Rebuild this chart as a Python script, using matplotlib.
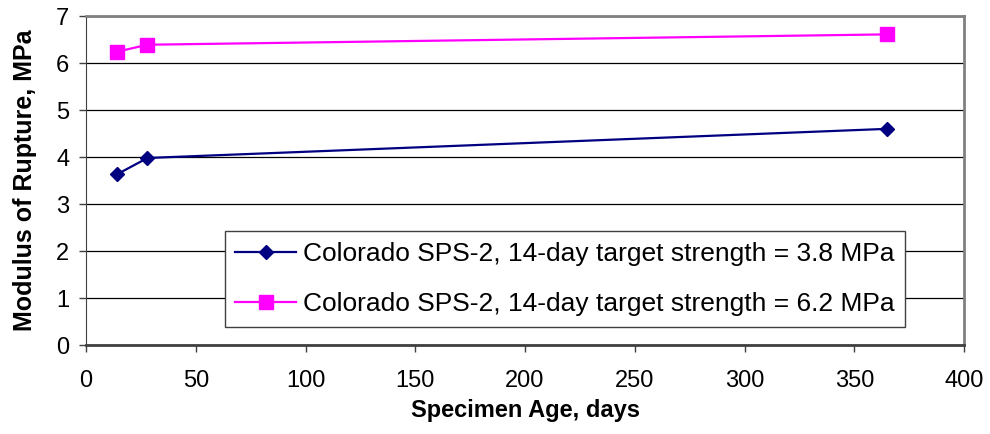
#!/usr/bin/env python
"""
Modulus of rupture vs specimen age, Colorado SPS-2
"""

import matplotlib.pyplot as plt

age_days = [14, 28, 365]
mor_low = [3.63, 3.98, 4.60]
mor_high = [6.24, 6.39, 6.61]
labels = [
    "Colorado SPS-2, 14-day target strength = 3.8 MPa",
    "Colorado SPS-2, 14-day target strength = 6.2 MPa",
]


def main():
    """
    Driver code
    """
    plt.rcParams["font.family"] = ["Liberation Sans", "DejaVu Sans"]
    fig = plt.figure(figsize=(9.9, 4.34), dpi=100)
    ax = fig.add_axes([0.0869, 0.205, 0.8869, 0.758])

    ax.plot(age_days, mor_low, color="#000080", marker="D", ms=6.8, lw=1.6,
            label=labels[0])
    ax.plot(age_days, mor_high, color="#FF00FF", marker="s", ms=10.5, lw=1.6,
            label=labels[1])

    ax.set_xlim(0, 400)
    ax.set_ylim(0, 7)
    ax.set_xticks(range(0, 401, 50))
    ax.set_yticks(range(0, 8))
    ax.yaxis.grid(True, color="black", lw=0.9)
    ax.set_axisbelow(True)
    ax.tick_params(labelsize=17, length=5, width=1, color="#404040")
    ax.tick_params(axis="x", pad=13)
    ax.tick_params(axis="y", pad=7)

    for side in ["top", "right"]:
        ax.spines[side].set_color("#808080")
        ax.spines[side].set_linewidth(2)
    ax.spines["left"].set_color("#404040")
    ax.spines["bottom"].set_color("#404040")
    ax.spines["bottom"].set_linewidth(2)

    ax.set_xlabel("Specimen Age, days", fontsize=17, fontweight="bold", labelpad=5)
    ax.set_ylabel("Modulus of Rupture, MPa", fontsize=18, fontweight="bold", labelpad=14)

    leg = ax.legend(loc="lower right", bbox_to_anchor=(0.933, 0.055), fontsize=19,
                    fancybox=False, framealpha=1, edgecolor="#404040",
                    handlelength=2.3, borderpad=0.4, labelspacing=1.0,
                    handletextpad=0.27, borderaxespad=0)
    leg.get_frame().set_linewidth(1)

    fig.savefig("out.png", dpi=100)


if __name__ == "__main__":
    main()
